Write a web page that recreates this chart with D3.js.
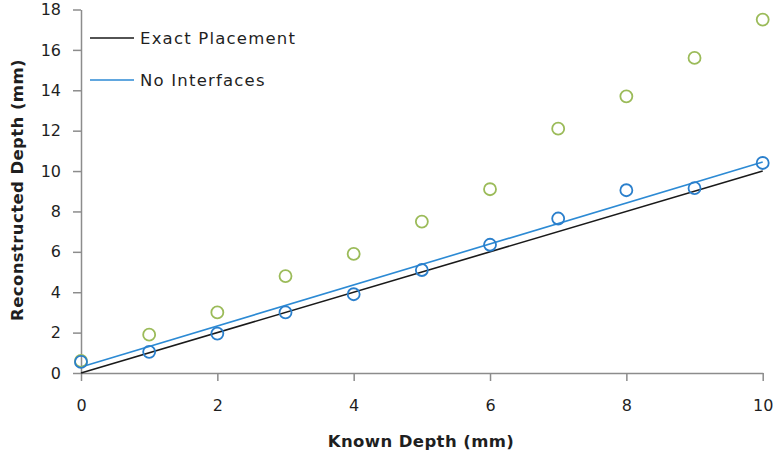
<!DOCTYPE html>
<html>
<head>
<meta charset="utf-8">
<script src="https://cdn.jsdelivr.net/npm/d3@7"></script>
<style>
  html, body { margin: 0; padding: 0; background: #fff; }
  svg { display: block; }
  text { font-family: "DejaVu Sans", Verdana, sans-serif; fill: #1f1f1f; }
</style>
</head>
<body>
<svg id="chart" width="777" height="457"></svg>
<script>
// Known depths (mm)
const knownDepth = [0, 1, 2, 3, 4, 5, 6, 7, 8, 9, 10];
// Reconstructed depth with interfaces ignored (green markers)
const greenDepth = [0.6, 1.9, 3.0, 4.8, 5.9, 7.5, 9.1, 12.1, 13.7, 15.6, 17.5];
// Reconstructed depth, no interfaces (blue markers)
const blueDepth = [0.55, 1.05, 1.95, 3.0, 3.9, 5.1, 6.35, 7.65, 9.05, 9.15, 10.4];
// Line endpoints at x = 0 and x = 10
const lineX = [0, 10];
const exactLine = [0, 10];
const noInterfacesLine = [0.3, 10.45];
const xTicks = [0, 2, 4, 6, 8, 10];
const yTicks = [0, 2, 4, 6, 8, 10, 12, 14, 16, 18];
const legendLabels = ["Exact Placement", "No Interfaces"];

const svg = d3.select("#chart");
const x = d3.scaleLinear().domain([0, 10]).range([81, 762.7]);
const y = d3.scaleLinear().domain([0, 18]).range([373, 9.5]);

const axisColor = "#8c8c8c";

// axes
const gx = svg.append("g").attr("transform", `translate(0,${y(0)})`)
  .call(d3.axisBottom(x).tickValues(xTicks).tickSizeInner(8).tickSizeOuter(0).tickPadding(19));
const gy = svg.append("g").attr("transform", `translate(${x(0)},0)`)
  .call(d3.axisLeft(y).tickValues(yTicks).tickSizeInner(8).tickSizeOuter(0).tickPadding(12));
[gx, gy].forEach(g => {
  g.select(".domain").attr("stroke", axisColor).attr("stroke-width", 1.5);
  g.selectAll(".tick line").attr("stroke", axisColor).attr("stroke-width", 1.5);
  g.selectAll(".tick text").attr("font-size", 16).attr("fill", "#1f1f1f")
    .attr("font-family", "\"DejaVu Sans\", Verdana, sans-serif");
});

// lines
const line = d3.line().x(d => x(d[0])).y(d => y(d[1]));
svg.append("path")
  .datum(lineX.map((v, i) => [v, exactLine[i]]))
  .attr("d", line).attr("fill", "none").attr("stroke", "#1a1a1a").attr("stroke-width", 1.6);
svg.append("path")
  .datum(lineX.map((v, i) => [v, noInterfacesLine[i]]))
  .attr("d", line).attr("fill", "none").attr("stroke", "#2c8ad4").attr("stroke-width", 1.6);

// markers
svg.append("g").selectAll("circle")
  .data(knownDepth.map((v, i) => [v, greenDepth[i]]))
  .join("circle")
  .attr("cx", d => x(d[0])).attr("cy", d => y(d[1])).attr("r", 6)
  .attr("fill", "none").attr("stroke", "#9bbb59").attr("stroke-width", 1.8);
svg.append("g").selectAll("circle")
  .data(knownDepth.map((v, i) => [v, blueDepth[i]]))
  .join("circle")
  .attr("cx", d => x(d[0])).attr("cy", d => y(d[1])).attr("r", 6)
  .attr("fill", "none").attr("stroke", "#2a7fcc").attr("stroke-width", 1.8);

// legend
const legendColors = ["#1a1a1a", "#2c8ad4"];
const legend = svg.append("g");
legendLabels.forEach((label, i) => {
  const ly = 38 + i * 42;
  legend.append("line").attr("x1", 90).attr("x2", 134).attr("y1", ly).attr("y2", ly)
    .attr("stroke", legendColors[i]).attr("stroke-width", 1.6);
  legend.append("text").attr("x", 140).attr("y", ly).attr("dy", "0.35em")
    .attr("font-size", 16.5).attr("letter-spacing", 1.2).text(label);
});

// axis titles
svg.append("text").attr("x", 421).attr("y", 447).attr("text-anchor", "middle")
  .attr("font-size", 16.5).attr("font-weight", "bold").attr("letter-spacing", 0.4)
  .text("Known Depth (mm)");
svg.append("text").attr("transform", "translate(23,190) rotate(-90)")
  .attr("text-anchor", "middle").attr("font-size", 16.5).attr("font-weight", "bold")
  .attr("letter-spacing", 0.4)
  .text("Reconstructed Depth (mm)");
</script>
</body>
</html>
